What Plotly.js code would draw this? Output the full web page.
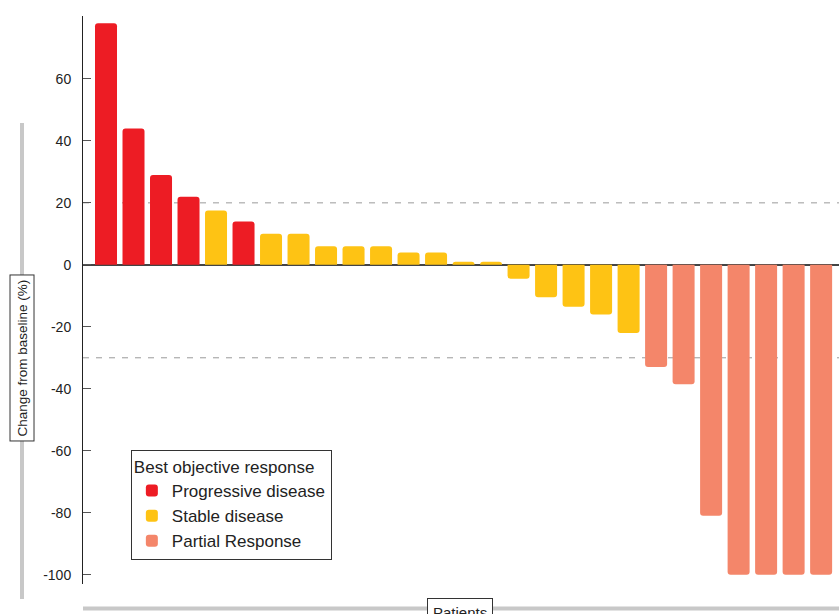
<!DOCTYPE html>
<html>
<head>
<meta charset="utf-8">
<script src="https://cdn.plot.ly/plotly-3.0.1.min.js"></script>
<style>
  html, body { margin: 0; padding: 0; background: #fff; }
  #chart { width: 839px; height: 614px; }
</style>
</head>
<body>
<div id="chart"></div>
<script>
// Best percentage change from baseline, one bar per patient (waterfall order)
const patients = [1, 2, 3, 4, 5, 6, 7, 8, 9, 10, 11, 12, 13, 14, 15, 16, 17, 18, 19, 20, 21, 22, 23, 24, 25, 26, 27];
const change = [78, 44, 29, 22, 17.5, 14, 10, 10, 6, 6, 6, 4, 4, 1, 1,
                -4.5, -10.5, -13.5, -16, -22, -33, -38.5, -81, -100, -100, -100, -100];
const response = ["PD", "PD", "PD", "PD", "SD", "PD", "SD", "SD", "SD", "SD", "SD", "SD", "SD", "SD", "SD",
                  "SD", "SD", "SD", "SD", "SD", "PR", "PR", "PR", "PR", "PR", "PR", "PR"];

const groupCodes = ["PD", "SD", "PR"];
const groupNames = ["Progressive disease", "Stable disease", "Partial Response"];
const groupColors = ["#ED1C24", "#FEC314", "#F4866A"];

const yTickVals = [-100, -80, -60, -40, -20, 0, 20, 40, 60];
const yTickText = ["-100", "-80", "-60", "-40", "-20", "0", "20", "40", "60"];

// response thresholds (progression / partial response)
const thresholds = [20, -30];

const FONT = "'Liberation Sans', Arial, Helvetica, sans-serif";

const traces = groupCodes.map((code, g) => {
  const xs = [], ys = [];
  patients.forEach((p, i) => {
    if (response[i] === code) { xs.push(p); ys.push(change[i]); }
  });
  return {
    type: "bar",
    name: groupNames[g],
    x: xs,
    y: ys,
    width: 0.8,
    marker: { color: groupColors[g], line: { width: 0 } },
    hoverinfo: "skip"
  };
});

const shapes = thresholds.map(v => ({
  type: "line", xref: "paper", yref: "y", layer: "below",
  x0: 0, x1: 1, y0: v, y1: v,
  line: { color: "#9a9a9a", width: 1, dash: "6px,7px" }
}));

// grey guide bars behind the axis titles
shapes.push({
  type: "line", xref: "paper", yref: "paper",
  x0: -0.0807, x1: -0.0807, y0: -0.0264, y1: 0.8116,
  line: { color: "#c8c8c8", width: 4 }
});
shapes.push({
  type: "line", xref: "paper", yref: "paper",
  x0: 0, x1: 1, y0: -0.0431, y1: -0.0431,
  line: { color: "#c8c8c8", width: 4 }
});

const layout = {
  width: 839,
  height: 614,
  margin: { l: 83, r: 0, t: 16, b: 30 },
  paper_bgcolor: "#ffffff",
  plot_bgcolor: "#ffffff",
  font: { family: FONT, color: "#222" },
  barmode: "relative",
  barcornerradius: 3,
  showlegend: true,
  xaxis: {
    range: [0.1636, 27.65],
    showgrid: false,
    zeroline: false,
    showline: false,
    showticklabels: false,
    ticks: "",
    fixedrange: true
  },
  yaxis: {
    range: [-103, 80.3],
    showgrid: false,
    zeroline: true,
    zerolinecolor: "#444",
    zerolinewidth: 2,
    showline: true,
    linecolor: "#222",
    linewidth: 1,
    ticks: "inside",
    ticklen: 8,
    tickcolor: "#555",
    tickwidth: 1,
    tickvals: yTickVals,
    ticktext: yTickText,
    ticklabelstandoff: 8,
    tickfont: { family: FONT, size: 14, color: "#222" },
    fixedrange: true
  },
  legend: {
    x: 0.0633, y: 0.236,
    xanchor: "left", yanchor: "top",
    bgcolor: "#ffffff",
    bordercolor: "#333",
    borderwidth: 1,
    font: { family: FONT, size: 17, color: "#222" },
    title: { text: "Best objective response", font: { family: FONT, size: 17, color: "#222" } },
    traceorder: "normal",
    itemwidth: 30
  },
  shapes: shapes,
  annotations: [
    {
      text: "Change from baseline (%)",
      xref: "paper", yref: "paper",
      x: -0.0807, y: 0.3988,
      xanchor: "center", yanchor: "middle",
      textangle: -90,
      showarrow: false,
      font: { family: FONT, size: 13.5, color: "#222" },
      bgcolor: "#ffffff",
      bordercolor: "#333",
      borderwidth: 1,
      borderpad: 4
    },
    {
      text: "Patients",
      xref: "paper", yref: "paper",
      x: 0.4987, y: -0.0247,
      xanchor: "center", yanchor: "top",
      showarrow: false,
      font: { family: FONT, size: 15, color: "#222" },
      bgcolor: "#ffffff",
      bordercolor: "#333",
      borderwidth: 1,
      borderpad: 5
    }
  ]
};

Plotly.newPlot("chart", traces, layout, { staticPlot: true, displayModeBar: false });
</script>
</body>
</html>
